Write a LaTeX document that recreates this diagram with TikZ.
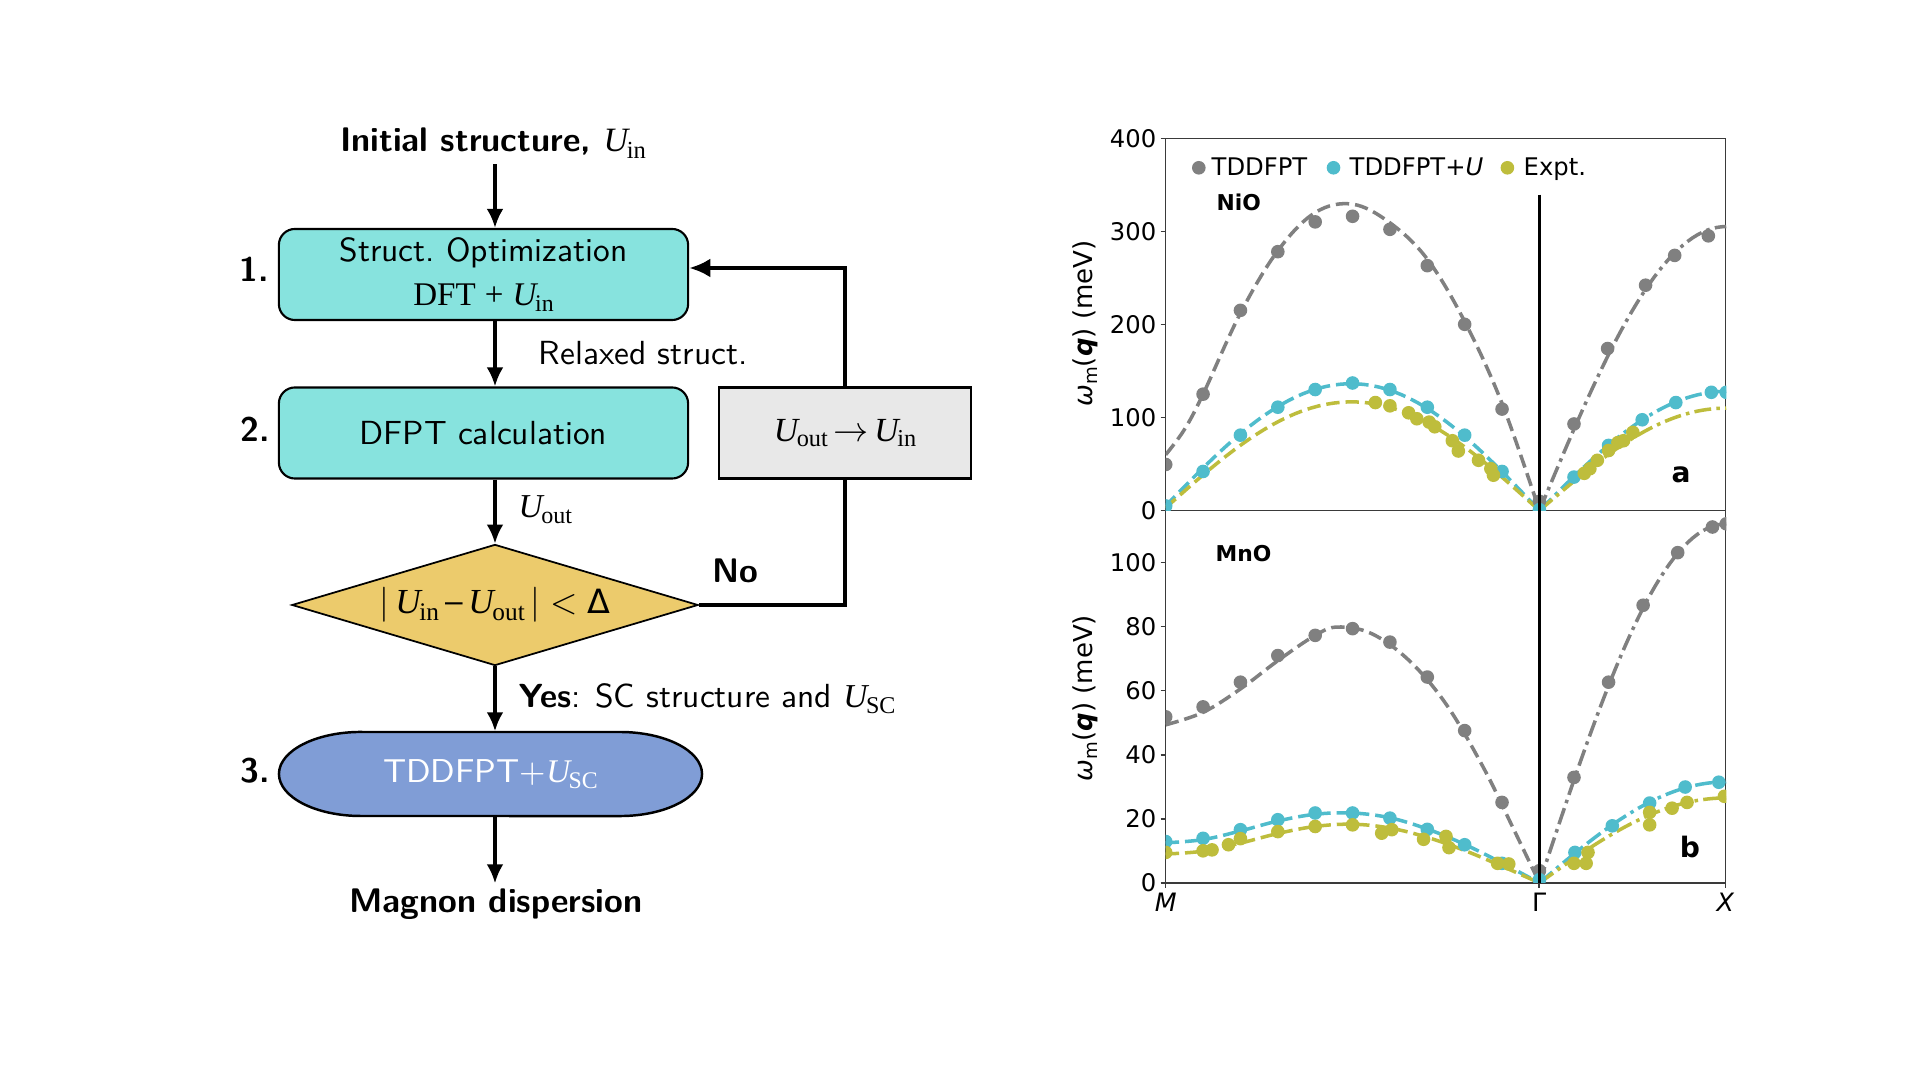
\documentclass[tikz,border=0pt]{standalone}
\usepackage{fontspec}
\newfontfamily\tms{Liberation Serif}
\newfontfamily\djv{DejaVu Sans}
\usetikzlibrary{arrows.meta,shapes.geometric,calc}
\definecolor{boxcyan}{HTML}{87E3DE}
\definecolor{boxgray}{HTML}{E8E8E8}
\definecolor{diamy}{HTML}{ECCB6C}
\definecolor{ellb}{HTML}{809DD6}
\definecolor{pgray}{HTML}{808080}
\definecolor{pcyan}{HTML}{4FBCCC}
\definecolor{polive}{HTML}{BEBD3C}
\definecolor{framec}{HTML}{3A3A3A}
\newcommand{\fs}[1]{\fontsize{#1}{#1}\selectfont}
\newcommand{\Us}[1]{{\tms\mdseries\itshape U}\kern-0.4pt\raisebox{-0.4ex}{\scalebox{0.72}{\tms\mdseries #1}}}
\begin{document}
\begin{tikzpicture}[x=0.01cm, y=-0.01cm,
  txt/.style={font=\sffamily\fs{9.5}, inner sep=1.5pt},
  txtb/.style={font=\sffamily\bfseries\fs{9.7}, inner sep=1.5pt},
  procbox/.style={draw=black, line width=0.6pt, fill=boxcyan, rounded corners=0.16cm,
     minimum width=4.09cm, minimum height=0.91cm, font=\sffamily\fs{9.5}, align=center, inner sep=0pt},
  gbox/.style={draw=black, line width=0.6pt, fill=boxgray, minimum width=2.52cm,
     minimum height=0.91cm, inner sep=0pt, font=\fs{9.6}},
  diam/.style={diamond, draw=black, line width=0.5pt, fill=diamy, minimum width=4.06cm,
     minimum height=1.21cm, aspect=3.35, inner sep=0pt, font=\sffamily\fs{10}},
  arr/.style={line width=1pt, -{Latex[length=5.4pt, width=4.8pt]}},
  loopl/.style={line width=1.4pt},
  ticklab/.style={font=\djv\fs{6.9}, inner sep=0pt},
  leg/.style={font=\djv\fs{6.9}, inner sep=0pt},
  gdash/.style={line width=1pt, dash pattern=on 3.8pt off 1.7pt},
  gdd/.style={line width=1pt, dash pattern=on 4.8pt off 1.5pt on 1pt off 1.5pt},
  framel/.style={draw=framec, line width=0.45pt},
  dot/.style={radius=0.068cm}
]
\fill[white] (0,0) rectangle (1920,1080);

% ---------------- flowchart ----------------
\coordinate (ax) at (495,0);
\node[txtb, anchor=base] (init) at (493,152) {Initial structure, \Us{in}};
\node[procbox] (b1) at (483.5,274.5) {Struct.\ Optimization\\[3pt]{\fs{9.4}\tms DFT\;+\;}{\fs{9.4}\Us{in}}};
\node[procbox] (b2) at (483.5,433) {DFPT calculation};
\node[gbox] (g) at (845,433) {\Us{out}\,$\rightarrow$\,\Us{in}};
\node[diam] (d) at (495,605) {|\,\Us{in}\,\textendash\,\Us{out}\,|\;<\;{\djv\fs{9.5}Δ}};
\draw[line width=0.7pt, fill=ellb] (361,732) -- (620,732)
   arc[start angle=90, end angle=-90, x radius=0.82cm, y radius=0.42cm] -- (361,816)
   arc[start angle=270, end angle=90, x radius=0.82cm, y radius=0.42cm] -- cycle;
\node[font=\sffamily\fs{9.4}, text=white, minimum width=4.23cm, minimum height=0.84cm, inner sep=0pt] (e) at (490.5,774) {TDDFPT+\Us{SC}};
\node[txtb, anchor=base] (mag) at (496,913) {Magnon dispersion};

\node[txtb, anchor=base] (n1) at (254.5,281.7) {1.};
\node[txtb, anchor=base] (n2) at (255,441.7) {2.};
\node[txtb, anchor=base] (n3) at (255,783) {3.};

\draw[arr] (init.south -| ax) -- (b1.north -| ax);
\draw[arr] (b1.south -| ax) -- (b2.north -| ax);
\draw[arr] (b2.south -| ax) -- (d.north);
\draw[arr] (d.south) -- (e.north -| ax);
\draw[arr] (e.south -| ax) -- (mag.north -| ax);
\draw[loopl] (d.east) -| (g.south);
\draw[loopl, -{Latex[length=6pt, width=5.4pt]}] (g.north) |- ($(b1.east)+(0,-6.5)$);

\node[txt, anchor=base west, inner sep=0pt] (lrel) at (538,365) {Relaxed struct.};
\node[anchor=base west, inner sep=0pt, font=\fs{9.5}] (lout) at (518,518) {\Us{out}};
\node[txtb, anchor=base west, inner sep=0pt] (lno) at (712,583) {No};
\node[txt, anchor=base west, inner sep=0pt] (lyes) at (518,708) {{\bfseries Yes}: SC structure and \Us{SC}};

% ---------------- plot ----------------
\draw[framel] (1165.7,138.4) rectangle (1725.3,882.9);
\draw[framel] (1165.7,510.6) -- (1725.3,510.6);
\foreach \v in {0,100,200,300,400} {
  \draw[framel] (1160.7,{510.6-0.9305*\v}) -- (1165.7,{510.6-0.9305*\v});
  \node[ticklab, anchor=east] (tt\v) at (1157,{510.6-0.9305*\v}) {\v};
}
\foreach \v in {0,20,40,60,80,100} {
  \draw[framel] (1160.7,{882.9-3.204*\v}) -- (1165.7,{882.9-3.204*\v});
  \node[ticklab, anchor=east] (tb\v) at (1157,{882.9-3.204*\v}) {\v};
}
\foreach \xx in {1165.7, 1539.2, 1725.3} {
  \draw[framel] (\xx,882.9) -- (\xx,887.9);
}
\node[ticklab, font=\djv\itshape\fs{7.2}] (xM) at (1165.7,902.5) {M};
\node[ticklab, font=\djv\fs{7.2}] (xG) at (1539.2,902.5) {Γ};
\node[ticklab, font=\djv\itshape\fs{7.2}] (xX) at (1725.3,902.5) {X};
\node[rotate=90, font=\djv\fs{7.4}, inner sep=0pt] (yl1) at (1085,323.5)
  {{\itshape ω}\raisebox{-0.35ex}{\scalebox{0.7}{m}}({\bfseries\itshape q}) (meV)};
\node[rotate=90, font=\djv\fs{7.4}, inner sep=0pt] (yl2) at (1085,698)
  {{\itshape ω}\raisebox{-0.35ex}{\scalebox{0.7}{m}}({\bfseries\itshape q}) (meV)};
% legend
\fill[pgray] (1198.8,167.8) circle[dot];
\node[leg, anchor=base west] (lg1) at (1211,176) {TDDFPT};
\fill[pcyan] (1333.5,167.8) circle[dot];
\node[leg, anchor=base west] (lg2) at (1349,176) {TDDFPT+{\itshape U}};
\fill[polive] (1507.4,167.8) circle[dot];
\node[leg, anchor=base west] (lg3) at (1523,176) {Expt.};
\node[font=\djv\bfseries\fs{6.2}, anchor=base west, inner sep=0pt] (nio) at (1216,210.4) {NiO};
\node[font=\djv\bfseries\fs{6.2}, anchor=base west, inner sep=0pt] (mno) at (1215,562) {MnO};
\node[font=\djv\bfseries\fs{8}, inner sep=0pt] (pa) at (1681,475) {a};
\node[font=\djv\bfseries\fs{8}, inner sep=0pt] (pb) at (1690,847) {b};

% top panel NiO
\begin{scope}[shift={(1165.7,510.6)}, x=3.735cm, y=0.009305cm]
  \clip (0,0) rectangle (1.5,400);
  \draw[gdash, pgray] plot[smooth, tension=0.6] coordinates {(0,60) (0.05,87) (0.1,125) (0.2,212) (0.3,279) (0.4,320) (0.5,329) (0.6,309) (0.7,270) (0.8,203) (0.9,115) (1,0)};
  \draw[gdd, pgray] plot[domain=0:1, samples=40] ({1+\x/2}, {305*sin(90*\x)});
  \draw[gdash, pcyan] plot[domain=0:1, samples=50] (\x, {135*sin(180*\x)+5*(1-\x)^2});
  \draw[gdd, pcyan] plot[domain=0:1, samples=40] ({1+\x/2}, {128*sin(90*\x)});
  \draw[gdash, polive] plot[domain=0:1, samples=50] (\x, {116*sin(180*\x)+3*(1-\x)^2});
  \draw[gdd, polive] plot[domain=0:1, samples=40] ({1+\x/2}, {110*sin(90*\x)});
  \foreach \t/\e in {0/49.5,0.1/125,0.2/215,0.3/278,0.4/310,0.5/316,0.6/302,0.7/263,0.8/200,0.9/109,1/10,
     1.0925/93,1.1825/174,1.284/242,1.362/274,1.452/295}
     \fill[pgray] (\t,\e) circle[dot];
  \foreach \t/\e in {0/5,0.1/42,0.2/81,0.3/111,0.4/130,0.5/137,0.6/130,0.7/111,0.8/81,0.9/42,1/1,
     1.0925/36,1.185/70,1.275/97.5,1.365/116,1.46/127,1.5/127}
     \fill[pcyan] (\t,\e) circle[dot];
  \foreach \t/\e in {0.561/116,0.6/112.5,0.65/105,0.672/98.6,0.705/95,0.72/90,0.767/75,0.783/64,0.837/54,0.87/45,0.877/38,
     1.12/40,1.135/45,1.155/54,1.185/64.5,1.21/73,1.225/75,1.25/84}
     \fill[polive] (\t,\e) circle[dot];
\end{scope}

% bottom panel MnO
\begin{scope}[shift={(1165.7,882.9)}, x=3.735cm, y=0.03204cm]
  \clip (0,0) rectangle (1.5,116.2);
  \draw[gdash, pgray] plot[smooth, tension=0.6] coordinates {(0,49.3) (0.1,53.2) (0.2,60.5) (0.3,69.3) (0.4,77.2) (0.46,79.8) (0.55,77.8) (0.65,69.5) (0.75,55.8) (0.85,36) (0.93,17) (1,0)};
  \draw[gdd, pgray] plot[domain=0:1, samples=40] ({1+\x/2}, {112*sin(90*\x)});
  \draw[gdash, pcyan] plot[smooth, tension=0.6] coordinates {(0,12.5) (0.1,13.5) (0.2,16.2) (0.3,19.3) (0.4,21.4) (0.5,21.8) (0.6,20.3) (0.7,16.8) (0.8,12) (0.9,6.2) (1,0)};
  \draw[gdd, pcyan] plot[domain=0:1, samples=40] ({1+\x/2}, {31.5*sin(90*\x)});
  \draw[gdash, polive] plot[smooth, tension=0.6] coordinates {(0,9) (0.1,9.9) (0.2,12.4) (0.3,15.4) (0.4,17.6) (0.5,18.3) (0.6,17.1) (0.7,14.2) (0.8,10.1) (0.9,5.2) (1,0)};
  \draw[gdd, polive] plot[domain=0:1, samples=40] ({1+\x/2}, {26.5*sin(90*\x)});
  \foreach \t/\e in {0/51.8,0.1/54.9,0.2/62.6,0.3/70.9,0.4/77.2,0.5/79.3,0.6/75.1,0.7/64.2,0.8/47.5,0.9/25.1,1/3.8,
     1.0925/32.9,1.185/62.6,1.2775/86.6,1.37/103,1.463/111,1.5/112}
     \fill[pgray] (\t,\e) circle[dot];
  \foreach \t/\e in {0/12.9,0.1/13.9,0.2/16.6,0.3/19.7,0.4/21.8,0.5/21.8,0.6/20.2,0.7/16.7,0.8/11.9,0.9/6.1,1/1,
     1.095/9.5,1.195/17.8,1.295/24.9,1.39/29.9,1.48/31.4}
     \fill[pcyan] (\t,\e) circle[dot];
  \foreach \t/\e in {0/9.5,0.1/10,0.124/10.3,0.168/11.9,0.2/13.8,0.3/16,0.4/17.6,0.5/18.1,0.578/15.5,0.605/16.6,0.69/13.6,0.75/14.5,0.758/11,0.888/6.1,0.918/5.9,
     1.0925/6.1,1.125/6.1,1.13/9.5,1.295/18.1,1.295/22,1.355/23.3,1.395/25.1,1.495/27}
     \fill[polive] (\t,\e) circle[dot];
\end{scope}
\draw[line width=0.9pt, black] (1539.2,194.7) -- (1539.2,882.9);
\end{tikzpicture}
\end{document}
